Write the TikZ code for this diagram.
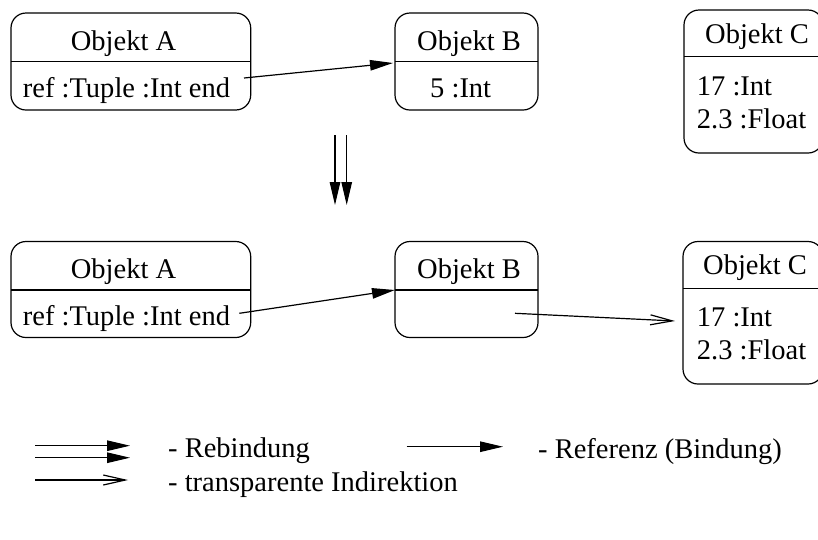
\documentclass[tikz,border=0pt]{standalone}
\usepackage{fontspec}
\setmainfont{Liberation Serif}
\usetikzlibrary{arrows.meta}

\begin{document}
\begin{tikzpicture}[x=1pt,y=-1pt,
  objbox/.style={draw, line width=1.2pt, rounded corners=15pt, inner sep=0pt, outer sep=0pt, anchor=north west},
  divider/.style={line width=1.2pt},
  txt/.style={anchor=base west, inner sep=0pt, font=\fontsize{28.5}{34}\selectfont},
  refarrow/.style={-{Triangle[length=23pt,width=10.5pt]}, line width=1.2pt},
  transarrow/.style={-{Straight Barb[length=22pt,width=10pt]}, line width=1.2pt},
]
\useasboundingbox (0,0) rectangle (818,539);
\clip (0,0) rectangle (818,539);

% ---- before rebinding ----
\node[objbox, minimum width=239.7pt, minimum height=97pt] (A1) at (11,13) {};
\draw[divider] ([yshift=-48.7pt]A1.north west) -- ([yshift=-48.7pt]A1.north east);
\node[txt] (A1t) at (70.7,50) {Objekt A};
\node[txt] (A1v) at (22.7,97) {ref :Tuple :Int end};

\node[objbox, minimum width=143pt, minimum height=97pt] (B1) at (395,13) {};
\draw[divider] ([yshift=-48.7pt]B1.north west) -- ([yshift=-48.7pt]B1.north east);
\node[txt] (B1t) at (417,50) {Objekt B};
\node[txt] (B1v) at (430,97) {5 :Int};

\node[objbox, minimum width=139pt, minimum height=143pt] (C1) at (684,10) {};
\draw[divider] ([yshift=-46.7pt]C1.north west) -- ([yshift=-46.7pt]C1.north east);
\node[txt] (C1t) at (705,43) {Objekt C};
\node[txt] (C1v) at (696.7,95) {17 :Int};
\node[txt] (C1w) at (696.7,128) {2.3 :Float};

\coordinate (a1s) at (244,78);
\coordinate (b1e) at ([xshift=-2pt,yshift=-50pt]B1.north west);
\draw[refarrow] (a1s) -- (b1e);

% ---- rebinding ----
\coordinate (r1s) at (335,135);
\coordinate (r1e) at (335,205);
\coordinate (r2s) at (346.7,135);
\coordinate (r2e) at (346.7,205);
\draw[refarrow] (r1s) -- (r1e);
\draw[refarrow] (r2s) -- (r2e);

% ---- after rebinding ----
\node[objbox, minimum width=239.7pt, minimum height=96pt] (A2) at (11,241.5) {};
\draw[divider] ([yshift=-48.5pt]A2.north west) -- ([yshift=-48.5pt]A2.north east);
\node[txt] (A2t) at (70.7,278.5) {Objekt A};
\node[txt] (A2v) at (22.7,325.5) {ref :Tuple :Int end};

\node[objbox, minimum width=143pt, minimum height=96pt] (B2) at (395,241.5) {};
\draw[divider] ([yshift=-48.5pt]B2.north west) -- ([yshift=-48.5pt]B2.north east);
\node[txt] (B2t) at (417,278.5) {Objekt B};

\node[objbox, minimum width=140pt, minimum height=142.5pt] (C2) at (683,241.5) {};
\draw[divider] ([yshift=-46.7pt]C2.north west) -- ([yshift=-46.7pt]C2.north east);
\node[txt] (C2t) at (703,274.5) {Objekt C};
\node[txt] (C2v) at (696.7,326.5) {17 :Int};
\node[txt] (C2w) at (696.7,359.5) {2.3 :Float};

\coordinate (a2s) at (239.3,313.3);
\coordinate (b2e) at ([yshift=-48.5pt]B2.north west);
\draw[refarrow] (a2s) -- (b2e);

\coordinate (b2s) at (515,313.3);
\coordinate (c2e) at (675,321);
\draw[transarrow] (b2s) -- (c2e);

% ---- legend ----
\coordinate (l1a) at (35,445.7);
\coordinate (l1b) at (130,445.7);
\coordinate (l2a) at (35,457.7);
\coordinate (l2b) at (130,457.7);
\draw[refarrow] (l1a) -- (l1b);
\draw[refarrow] (l2a) -- (l2b);
\node[txt] (lreb) at (168,457.7) {- Rebindung};

\coordinate (l3a) at (406.7,446.7);
\coordinate (l3b) at (503,446.7);
\draw[refarrow] (l3a) -- (l3b);
\node[txt] (lref) at (538,458) {- Referenz (Bindung)};

\coordinate (l4a) at (35,480);
\coordinate (l4b) at (128,480);
\draw[transarrow] (l4a) -- (l4b);
\node[txt] (ltrans) at (168,491) {- transparente Indirektion};
\end{tikzpicture}
\end{document}
